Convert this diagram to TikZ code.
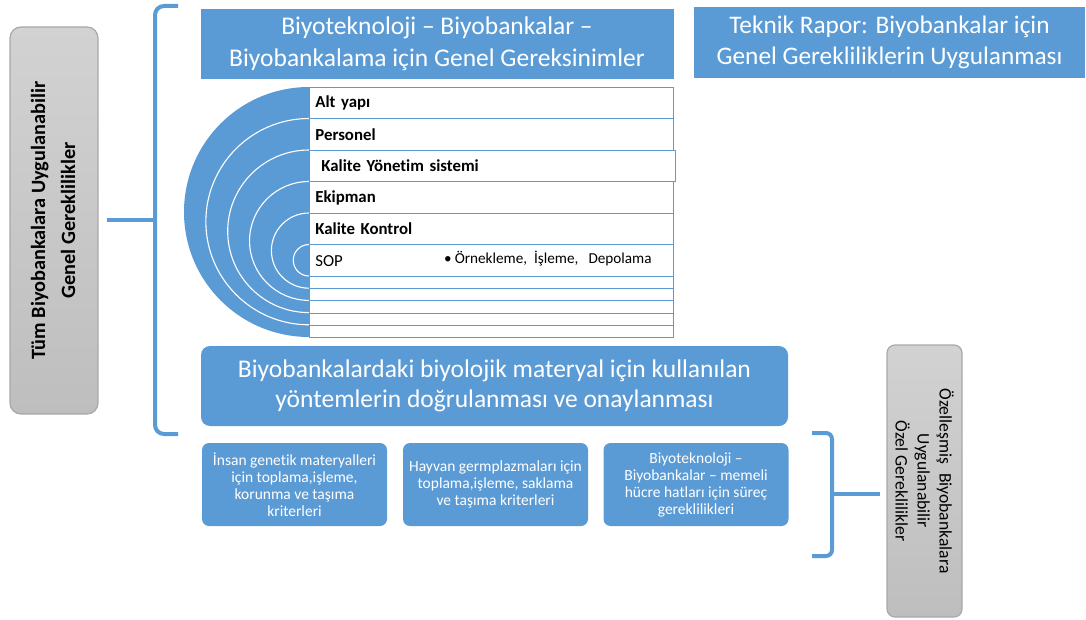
\documentclass[tikz,border=0pt]{standalone}
\usepackage{fontspec}
\setmainfont{Carlito}[Ligatures=NoCommon]
\definecolor{bankblue}{HTML}{5B9BD5}
\definecolor{graytop}{HTML}{D2D2D2}
\definecolor{graybot}{HTML}{BEBEBE}
\definecolor{grayedge}{HTML}{A8A8A8}
\begin{document}
\begin{tikzpicture}[x=1pt,y=-1pt,
  bluebox/.style={fill=bankblue, draw=none, text=white, align=center, inner sep=0pt},
  titlebox/.style={bluebox, font=\fontsize{25.5}{32}\selectfont},
  smallbox/.style={bluebox, rounded corners=7pt, minimum width=185pt, minimum height=83pt,
    font=\fontsize{15.5}{17}\selectfont},
  graybox/.style={top color=graytop, bottom color=graybot, draw=grayedge, line width=1.2pt,
    rounded corners=11pt, align=center, inner sep=0pt},
  rowbox/.style={draw=bankblue, fill=white, line width=0.8pt, anchor=north west,
    minimum width=364pt, inner xsep=6pt, inner ysep=0pt, text width=352pt, align=left,
    font=\fontsize{16.8}{18}\selectfont\bfseries},
  thinrow/.style={draw=bankblue, fill=white, line width=0.8pt, anchor=north west,
    minimum width=364pt, minimum height=12.2pt, inner sep=0pt},
  brace/.style={draw=bankblue, line width=4pt, rounded corners=9pt}]
\useasboundingbox (0,0) rectangle (1086,620);

% left side label and its brace
\node[graybox, minimum width=88pt, minimum height=387pt] (general) at (54,220.5) {};
\node[rotate=90, align=center, font=\fontsize{20.3}{30}\selectfont\bfseries] (generaltxt) at (53,220.5)
  {Tüm Biyobankalara Uygulanabilir\\Genel Gereklilikler};
\coordinate (lb-top) at (178,6);
\coordinate (lb-bot) at (178,434);
\coordinate (lb-mid) at (155,220);
\coordinate (lb-in) at (107,220);
\draw[brace] (lb-top) -| (lb-mid) |- (lb-bot);
\draw[draw=bankblue, line width=4pt] (lb-in) -- (lb-mid);

% title boxes
\node[titlebox, minimum width=473pt, minimum height=70pt] (std) at (437,44)
  {Biyoteknoloji – Biyobankalar –\\Biyobankalama için Genel Gereksinimler};
\node[titlebox, font=\fontsize{25.3}{31}\selectfont, minimum width=391pt, minimum height=71pt] (report) at (889.5,42.5)
  {Teknik Rapor: Biyobankalar için\\Genel Gerekliliklerin Uygulanması};

% half disc with concentric white rings
\begin{scope}
  \clip (0,0) rectangle (309,620);
  \fill[bankblue] (309,212) circle[radius=125];
  \foreach \i in {1,...,5} {
    \pgfmathsetmacro\tp{87+31.5*\i}
    \pgfmathsetmacro\bt{337-12.2*\i}
    \draw[white, line width=1.1pt] (309,{(\tp+\bt)/2}) circle[radius={(\bt-\tp)/2}];
  }
\end{scope}

% requirement rows
\node[rowbox, minimum height=31.5pt] (r1) at (309,87) {Alt yapı};
\node[rowbox, minimum height=31.5pt] (r2) at (309,118.5) {Personel};
\node[rowbox, minimum height=31.5pt, minimum width=366pt] (r3) at (309,150) {\hspace{5pt}Kalite Yönetim sistemi};
\node[rowbox, minimum height=31.5pt] (r4) at (309,181.5) {Ekipman};
\node[rowbox, minimum height=31.5pt] (r5) at (309,213) {Kalite Kontrol};
\node[rowbox, minimum height=31.5pt, font=\fontsize{16.8}{18}\selectfont] (r6) at (309,244.5) {SOP};
\node[anchor=west, inner sep=0pt, font=\fontsize{15.2}{16}\selectfont] (sopitems) at (444,259)
  {•\hspace{3pt}Örnekleme,\hspace{7pt}İşleme,\hspace{10pt}Depolama};
\foreach \j in {0,...,4} {
  \node[thinrow] (t\j) at (309,{276+12.2*\j}) {};
}

% validation box
\node[bluebox, rounded corners=9pt, minimum width=587pt, minimum height=80pt,
  font=\fontsize{25.5}{30.5}\selectfont] (valid) at (494.5,386)
  {Biyobankalardaki biyolojik materyal için kullanılan\\yöntemlerin doğrulanması ve onaylanması};

% specific documents
\node[smallbox] (human) at (294.5,484.5)
  {İnsan genetik materyalleri\\için toplama,işleme,\\korunma ve taşıma\\kriterleri};
\node[smallbox] (animal) at (495.5,484.5)
  {Hayvan germplazmaları için\\toplama,işleme, saklama\\ve taşıma kriterleri};
\node[smallbox] (cells) at (696,484.5)
  {Biyoteknoloji –\\Biyobankalar – memeli\\hücre hatları için süreç\\gereklilikleri};

% right side label and its brace
\node[graybox, rounded corners=8pt, minimum width=75pt, minimum height=272pt] (special) at (924.5,481) {};
\node[rotate=-90, align=center, font=\fontsize{17.6}{22}\selectfont] (specialtxt) at (924.5,481)
  {Özelleşmiş\hspace{5pt} Biyobankalara\\Uygulanabilir\\Özel Gereklilikler};
\coordinate (rb-top) at (812,433);
\coordinate (rb-bot) at (812,556);
\coordinate (rb-mid) at (832,494);
\coordinate (rb-out) at (880,494);
\draw[brace, rounded corners=6pt] (rb-top) -| (rb-mid) |- (rb-bot);
\draw[draw=bankblue, line width=4pt] (rb-mid) -- (rb-out);
\end{tikzpicture}
\end{document}
